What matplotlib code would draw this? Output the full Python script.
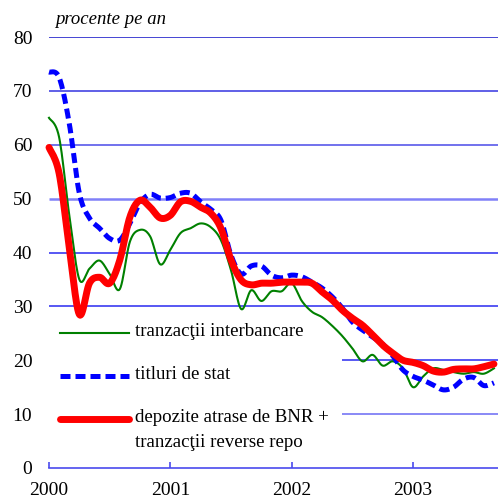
import numpy as np
import matplotlib
matplotlib.use("Agg")
import matplotlib.pyplot as plt

plt.rcParams["font.family"] = ["Liberation Serif", "DejaVu Serif"]

# monthly data, Jan 2000 - Sep 2003 (percent per year)
interbancare = [65.0, 61.4, 47.0, 35.0, 37.0, 38.5, 36.0, 33.2, 42.0, 44.2, 43.0, 37.8,
                40.5, 43.6, 44.5, 45.4, 44.7, 42.3, 36.7, 29.5, 33.0, 31.0, 32.8, 32.8,
                34.3, 31.0, 29.0, 28.0, 26.4, 24.5, 22.2, 19.8, 21.0, 19.0, 19.8, 18.5,
                15.0, 17.0, 18.5, 18.2, 17.8, 17.5, 17.8, 17.5, 18.5]
titluri = [73.5, 72.5, 64.0, 51.0, 46.4, 44.5, 42.6, 42.3, 45.4, 49.2, 50.8, 50.1,
           50.2, 51.0, 51.0, 49.4, 48.0, 46.0, 39.5, 36.0, 37.5, 37.5, 35.8, 35.3,
           35.8, 35.5, 34.5, 33.4, 31.8, 29.7, 27.1, 25.6, 24.3, 23.0, 20.8, 18.2,
           17.0, 16.3, 15.4, 14.5, 15.0, 16.5, 16.8, 15.3, 15.8]
depozite = [59.5, 54.7, 41.0, 28.5, 34.3, 35.4, 34.3, 38.6, 46.6, 49.7, 48.4, 46.4,
            46.9, 49.4, 49.5, 48.4, 47.3, 44.5, 38.6, 34.9, 34.0, 34.3, 34.3, 34.5,
            34.5, 34.5, 34.3, 32.7, 31.2, 29.3, 27.8, 26.5, 24.7, 22.8, 21.3, 20.0,
            19.6, 19.0, 18.0, 17.8, 18.3, 18.4, 18.4, 18.8, 19.3]
year_labels = ["2000", "2001", "2002", "2003"]
months = np.arange(len(depozite))


def smooth(x, y, n=12):
    # Excel-like smoothed line: cubic Bezier between points, tension 1/6
    x = np.asarray(x, float)
    y = np.asarray(y, float)
    px = np.concatenate([[x[0]], x, [x[-1]]])
    py = np.concatenate([[y[0]], y, [y[-1]]])
    t = np.linspace(0, 1, n, endpoint=False)[:, None]
    xs, ys = [], []
    for i in range(1, len(px) - 2):
        p0 = np.array([px[i], py[i]])
        p3 = np.array([px[i + 1], py[i + 1]])
        c1 = p0 + (p3 - np.array([px[i - 1], py[i - 1]])) / 6
        c2 = p3 - (np.array([px[i + 2], py[i + 2]]) - p0) / 6
        pts = (1 - t) ** 3 * p0 + 3 * (1 - t) ** 2 * t * c1 + 3 * (1 - t) * t ** 2 * c2 + t ** 3 * p3
        xs.append(pts[:, 0])
        ys.append(pts[:, 1])
    xs.append([x[-1]])
    ys.append([y[-1]])
    return np.concatenate(xs), np.concatenate(ys)


fig = plt.figure(figsize=(4.98, 5.04), dpi=100)
ax = fig.add_axes([49 / 498, 36 / 504, 449 / 498, 431 / 504])
ax.set_xlim(0, 44.4)
ax.set_ylim(0, 80)

# grid lines (10 and 20 are hidden behind the legend on the left)
grid_cols = {80: "#1414c8", 70: "#3434e0", 60: "#4a4ae8", 50: "#8080f8",
             40: "#2a2af0", 30: "#2a2af0", 20: "#2a2af0", 10: "#6a6af4"}
for v, c in grid_cols.items():
    lw = 1.8 if v == 50 else 1.1
    x0 = 29 if v <= 20 else 0
    ax.hlines(v, x0, 44.4, color=c, lw=lw, zorder=1)

sx, sy = smooth(months, interbancare)
ax.plot(sx, sy, color="#008000", lw=1.5, zorder=3, clip_on=False)
sx, sy = smooth(months, titluri)
ax.plot(sx, sy, color="#0000ff", lw=3.6, dashes=(2.0, 1.0), zorder=4, clip_on=False)
sx, sy = smooth(months, depozite)
ax.plot(sx, sy, color="#ff0000", lw=5, zorder=5, clip_on=False, solid_capstyle="round")

for s in ["left", "right", "top"]:
    ax.spines[s].set_visible(False)
ax.spines["bottom"].set_color("#4a4aee")
ax.spines["bottom"].set_linewidth(1.2)

ax.set_xticks([0, 12, 24, 36])
ax.set_xticklabels(year_labels, fontsize=14)
ax.tick_params(axis="x", direction="in", length=4, width=1.2, color="#4a4aee", pad=10)
ax.set_yticks(range(0, 81, 10))
ax.tick_params(axis="y", length=0, labelsize=14, pad=12)

fig.text(55 / 498, 1 - 20 / 504, "procente pe an", fontsize=13.5, style="italic", va="center")

# legend, drawn by hand so the handle sits on the first text line
legend_items = [
    ("tranzacţii interbancare", dict(color="#008000", lw=1.5), 0.313),
    ("titluri de stat", dict(color="#0000ff", lw=3.6, dashes=(2.0, 1.0)), 0.213),
    ("depozite atrase de BNR +\ntranzacţii reverse repo",
     dict(color="#ff0000", lw=5, solid_capstyle="round"), 0.114),
]
for label, style, yy in legend_items:
    ax.plot([0.024, 0.178], [yy, yy], transform=ax.transAxes, zorder=6, **style)
    for k, line in enumerate(label.split("\n")):
        ax.text(0.192, yy + 0.004 - 0.058 * k, line, transform=ax.transAxes,
                fontsize=13.6, va="center")

fig.savefig("out.png", dpi=100)
